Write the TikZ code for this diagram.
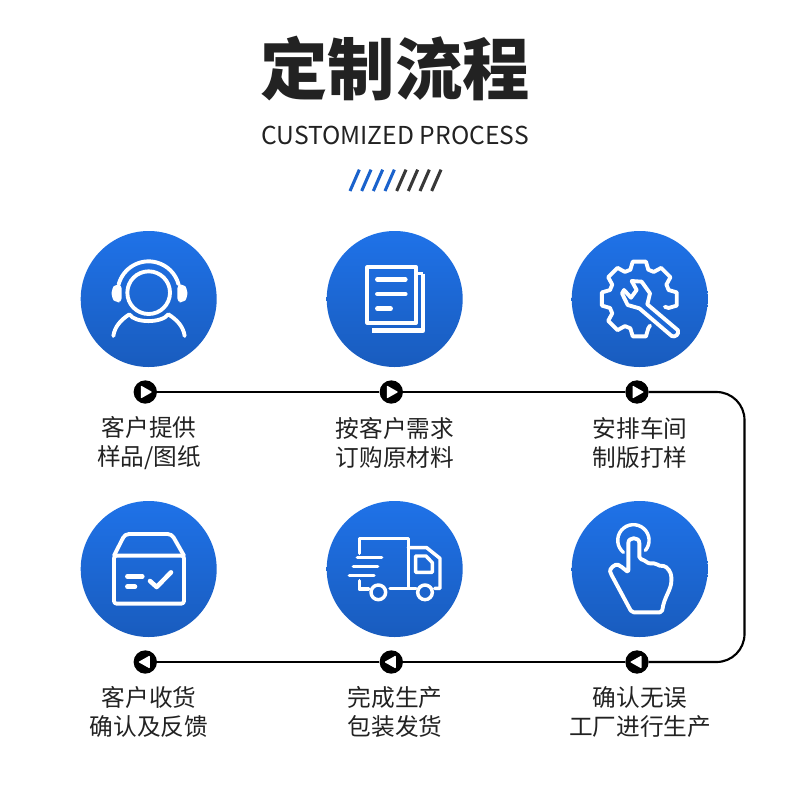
\documentclass[tikz,border=0pt]{standalone}
\usepackage{fontspec}
\setmainfont{Noto Sans CJK SC}
\usetikzlibrary{calc}
\definecolor{ink}{HTML}{222222}
\definecolor{ctop}{HTML}{1F72E8}
\definecolor{cbot}{HTML}{195CBE}
\definecolor{slashblue}{HTML}{1A62CC}
\tikzset{
  iconc/.style={circle,inner sep=0pt,minimum size=102pt,top color=ctop,bottom color=cbot,draw=none},
  mk/.style={circle,fill=black,inner sep=0pt,minimum size=17.5pt},
  lab/.style={text=ink,font=\fontsize{17.75pt}{21.8pt}\selectfont,align=center,inner sep=0pt},
  wl/.style={draw=white,line width=2.6pt,line cap=round,line join=round,fill=none},
  wg/.style={draw=white,line width=2.9pt,line cap=round,line join=round,fill=none},
  wt/.style={draw=white,line width=3.4pt,line cap=round,line join=round,fill=none},
  flow/.style={draw=black,line width=1.6pt},
  zA/.style={shift={(70,225)},x=0.25pt,y=-0.25pt},
  zB/.style={shift={(560,225)},x=0.25pt,y=-0.25pt},
  zC/.style={shift={(70,495)},x=0.25pt,y=-0.25pt},
  zD/.style={shift={(560,495)},x=0.25pt,y=-0.25pt},
  zE/.style={shift={(250,20)},x=0.25pt,y=-0.25pt},
  slash/.style={line width=2.3pt}
}
\begin{document}
\begin{tikzpicture}[x=0.75pt,y=-0.75pt]
\useasboundingbox (0,0) rectangle (790,800);
\fill[white] (0,0) rectangle (790,800);
% titles
\node[text=ink,inner sep=0pt,font=\fontsize{50.5pt}{56pt}\selectfont\bfseries] (title) at (395,69) {定制流程};
\node[text=ink,inner sep=0pt,font=\fontsize{18.5pt}{22pt}\selectfont] (sub) at (395,135) {CUSTOMIZED PROCESS};
\begin{scope}[zE]
  \foreach \x in {300,335,370,405} \draw[slash,slashblue] (\x,513) -- (\x+28,449);
  \foreach \x in {440,475,510,545} \draw[slash,ink!90] (\x,513) -- (\x+28,449);
\end{scope}
% circles
\node[iconc] (c1) at (148.7,299) {};
\node[iconc] (c2) at (394.7,299) {};
\node[iconc] (c3) at (639.7,299) {};
\node[iconc] (c4) at (148.7,569) {};
\node[iconc] (c5) at (394.7,569) {};
\node[iconc] (c6) at (639.7,569) {};
% markers and flow
\node[mk] (m1) at (145.3,392) {};
\node[mk] (m2) at (391.3,392) {};
\node[mk] (m3) at (637,392) {};
\node[mk] (m4) at (145.3,662) {};
\node[mk] (m5) at (391.3,662) {};
\node[mk] (m6) at (637,662) {};
\coordinate (k1) at (744.5,392);
\coordinate (k2) at (744.5,662);
\draw[flow] (m1) -- (m2);
\draw[flow] (m2) -- (m3);
\draw[flow,rounded corners=21pt] (m3) -- (k1) -- (k2) -- (m6);
\draw[flow] (m6) -- (m5);
\draw[flow] (m5) -- (m4);
\foreach \m in {m1,m2,m3}
  \fill[white,rounded corners=0.6pt] ([shift={(-4.5,-6.5)}]\m.center) -- ([shift={(7,0)}]\m.center) -- ([shift={(-4.5,6.5)}]\m.center) -- cycle;
\foreach \m in {m4,m5,m6}
  \fill[white,rounded corners=0.6pt] ([shift={(4.5,-6.5)}]\m.center) -- ([shift={(-7,0)}]\m.center) -- ([shift={(4.5,6.5)}]\m.center) -- cycle;
% labels
\node[lab] (t1) at (149,442.7) {客户提供\\样品/图纸};
\node[lab] (t2) at (395,442.7) {按客户需求\\订购原材料};
\node[lab] (t3) at (640,442.7) {安排车间\\制版打样};
\node[lab] (t4) at (149,712.2) {客户收货\\确认及反馈};
\node[lab] (t5) at (395,712.2) {完成生产\\包装发货};
\node[lab] (t6) at (640,712.2) {确认无误\\工厂进行生产};
% icon 1: headset person
\begin{scope}[zA]
  \draw[wg] (236,203) circle (64);
  \draw[wg] (146,178) arc[start angle=-165,end angle=-15,radius=93];
  \fill[white,rounded corners=3pt] (155,178) -- (137,178) -- (125,190) -- (125,220) -- (137,232) -- (155,232) -- cycle;
  \fill[white,rounded corners=3pt] (322,178) -- (340,178) -- (352,190) -- (352,220) -- (340,232) -- (322,232) -- cycle;
  \draw[wg] (130,333) .. controls (134,305) and (152,285) .. (178,268) .. controls (195,295) and (275,295) .. (295,268) .. controls (322,285) and (340,305) .. (344,333);
\end{scope}
% icon 2: documents
\begin{scope}[zA]
  \draw[draw=white,line width=3.2pt,line join=round] (892,127) rectangle (1038,293);
  \draw[draw=white,line width=3.4pt,line join=round] (1059,146) -- (1059,317) -- (905,317);
  \draw[white,line width=2.2pt] (1045,146) -- (1059,146);
  \draw[wt] (922,163) -- (1006,163);
  \draw[wt] (922,207) -- (1006,207);
  \draw[wt] (922,251) -- (962,251);
\end{scope}
% icon 3: gear and wrench
\begin{scope}[zB]
  \coordinate (gc) at (238,222);
  \draw[wg] ($(gc)+(68:86)$) foreach \a in {90,135,180,225,270,315,360} {
     -- ($(gc)+({\a-17}:92)$) -- ($(gc)+({\a-10}:114)$) -- ($(gc)+({\a+10}:114)$) -- ($(gc)+({\a+17}:92)$)
  } -- ($(gc)+(17:80)$);
  \draw[wg,fill=ctop!60!cbot] (215,168) -- (245,170) -- (270,205) -- (262,238) -- (354,316) .. controls (358,328) and (345,338) .. (335,333)
    -- (238,250) -- (203,240) -- (186,205) -- (192,195) -- (213,218) -- (230,195) -- cycle;
\end{scope}
% icon 4: parcel
\begin{scope}[zC]
  \draw[wg,rounded corners=2pt] (132,182) rectangle (342,326);
  \draw[wg,rounded corners=3pt] (132,182) -- (165,117) -- (305,117) -- (342,182);
  \draw[wt] (172,244) -- (217,244);
  \draw[wt] (172,275) -- (195,275);
  \draw[wt] (240,258) -- (260,276) -- (303,232);
\end{scope}
% icon 5: truck
\begin{scope}[zC]
  \draw[wl] (868,175) -- (868,130) -- (1015,130) -- (1015,280) -- (960,280);
  \draw[wl] (868,257) -- (868,282) -- (895,282);
  \draw[wl] (862,188) -- (935,188);
  \draw[wl] (850,214) -- (923,214);
  \draw[wl] (838,241) -- (912,241);
  \draw[wl] (1015,158) -- (1070,158) -- (1110,190) -- (1110,280) -- (1094,280);
  \draw[wl] (1037,183) -- (1068,183) -- (1087,203) -- (1087,232) -- (1037,232) -- cycle;
  \draw[wl] (1015,280) -- (1038,280);
  \draw[wl] (925,292) circle (22);
  \draw[wl] (1065,292) circle (22);
\end{scope}
% icon 6: hand
\begin{scope}[zD]
  \draw[wl] (190,172) arc[start angle=130,end angle=400,radius=47];
  \draw[wg,rounded corners=1.5pt] (205,232) -- (205,150) .. controls (205,125) and (238,125) .. (238,150) -- (238,192)
    .. controls (255,195) and (262,205) .. (275,205) .. controls (290,205) and (295,212) .. (305,212) .. controls (322,215) and (334,232) .. (334,252) .. controls (334,285) and (312,305) .. (306,352)
    -- (215,352) -- (152,235) .. controls (148,222) and (165,205) .. (180,212) -- cycle;
\end{scope}
\end{tikzpicture}
\end{document}
